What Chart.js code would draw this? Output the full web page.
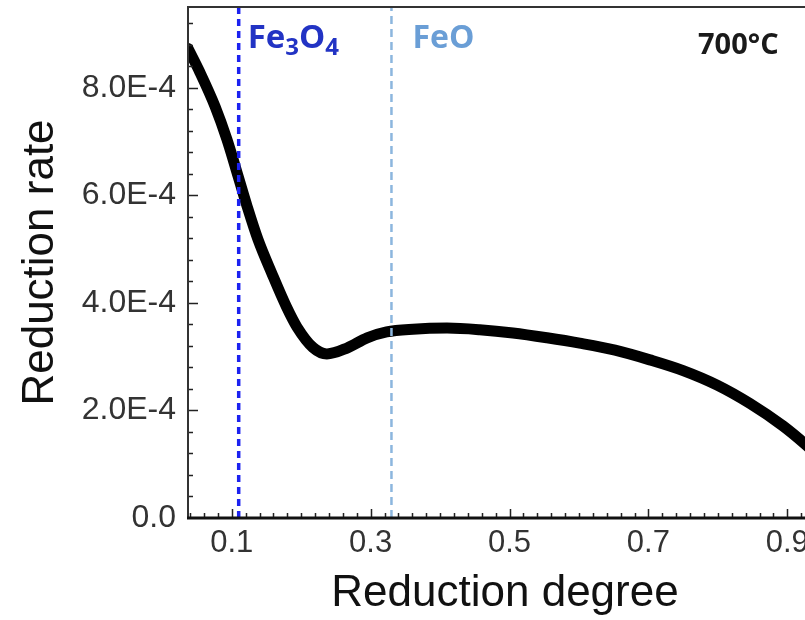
<!DOCTYPE html>
<html>
<head>
<meta charset="utf-8">
<script src="https://cdn.jsdelivr.net/npm/chart.js@4.4.1/dist/chart.umd.min.js"></script>
<style>
    html, body { margin: 0; padding: 0; background: #fff; overflow: hidden; }
    #wrap { width: 805px; height: 620px; overflow: hidden; }
</style>
</head>
<body>
<div id="wrap"><canvas id="rateChart" width="840" height="620"></canvas></div>
<script>
// Reduction rate curve (700 °C)
const reductionDegree = [0.037, 0.054, 0.076, 0.093, 0.109, 0.122, 0.138, 0.158, 0.179, 0.194, 0.217, 0.237, 0.266, 0.295, 0.323, 0.361, 0.410, 0.457, 0.505, 0.554, 0.601, 0.652, 0.702, 0.750, 0.799, 0.846, 0.894, 0.926, 0.962];
const reductionRate = [8.73e-4, 8.29e-4, 7.65e-4, 7.04e-4, 6.36e-4, 5.80e-4, 5.17e-4, 4.54e-4, 3.92e-4, 3.55e-4, 3.17e-4, 3.05e-4, 3.16e-4, 3.35e-4, 3.46e-4, 3.51e-4, 3.53e-4, 3.50e-4, 3.44e-4, 3.35e-4, 3.25e-4, 3.12e-4, 2.94e-4, 2.74e-4, 2.47e-4, 2.13e-4, 1.71e-4, 1.37e-4, 0.94e-4];

// Phase boundaries marked with dashed lines
const phaseNames = ['Fe3O4', 'FeO'];
const phaseDegree = [0.11, 0.33];

// Axis ticks
const xTicks = [0.1, 0.3, 0.5, 0.7, 0.9];
const yTicks = [0, 2e-4, 4e-4, 6e-4, 8e-4];
const xRange = [0.037, 0.95];
const yRange = [0, 9.5e-4];
const tempLabel = '700°C';

const phaseStyle = [
    { color: '#1c22f0', width: 3.5, dash: [7, 5], text: '#2233c4' },
    { color: '#8cb6de', width: 2.5, dash: [8, 5], text: '#6a9ed6' }
];

const curve = reductionDegree.map((d, i) => ({ x: d, y: reductionRate[i] }));

// dashed phase lines sit on top of the curve (lower order = drawn last)
const phaseSets = phaseDegree.map((d, i) => ({
    label: phaseNames[i],
    data: [{ x: d, y: yRange[0] }, { x: d, y: yRange[1] }],
    borderColor: phaseStyle[i].color,
    borderWidth: phaseStyle[i].width,
    borderDash: phaseStyle[i].dash,
    pointRadius: 0,
    fill: false,
    order: 0
}));

// inward tick marks, frame and text labels
const framePlugin = {
    id: 'frame',
    afterDatasetsDraw(chart) {
        const { ctx, chartArea: a, scales: { x, y } } = chart;
        ctx.save();
        ctx.strokeStyle = '#222';

        // x ticks, minor every 0.02
        ctx.lineWidth = 1.5;
        ctx.beginPath();
        for (let i = 2; i <= 50; i++) {
            const v = i * 0.02;
            if (v <= x.min || v >= x.max) continue;
            const px = Math.round(x.getPixelForValue(v)) + 0.5;
            const major = xTicks.some(t => Math.abs(t - v) < 1e-6);
            ctx.moveTo(px, a.bottom);
            ctx.lineTo(px, a.bottom - (major ? 9 : 5));
        }
        // y ticks, minor every 0.4E-4
        for (let i = 1; i <= 24; i++) {
            const v = i * 0.4e-4;
            if (v >= y.max) continue;
            const py = Math.round(y.getPixelForValue(v)) + 0.5;
            const major = yTicks.some(t => Math.abs(t - v) < 1e-9);
            ctx.moveTo(a.left, py);
            ctx.lineTo(a.left + (major ? 10 : 5), py);
        }
        ctx.stroke();

        // frame
        ctx.lineWidth = 2;
        ctx.strokeStyle = '#333';
        ctx.beginPath();
        ctx.moveTo(a.left, a.bottom);
        ctx.lineTo(a.left, a.top);
        ctx.lineTo(a.right, a.top);
        ctx.lineTo(a.right, a.bottom);
        ctx.stroke();
        ctx.lineWidth = 3;
        ctx.strokeStyle = '#111';
        ctx.beginPath();
        ctx.moveTo(a.left - 1, a.bottom);
        ctx.lineTo(a.right, a.bottom);
        ctx.stroke();

        // phase labels
        ctx.textBaseline = 'alphabetic';
        ctx.textAlign = 'left';
        const base = 48;
        // Fe3O4 with subscripts
        let tx = x.getPixelForValue(phaseDegree[0]) + 9;
        ctx.fillStyle = phaseStyle[0].text;
        const parts = [['Fe', 0], ['3', 1], ['O', 0], ['4', 1]];
        parts.forEach(([s, sub]) => {
            ctx.font = sub ? 'bold 24px "Open Sans"' : 'bold 33px "Open Sans"';
            ctx.fillText(s, tx, sub ? base + 7 : base);
            tx += ctx.measureText(s).width;
        });
        ctx.fillStyle = phaseStyle[1].text;
        ctx.font = 'bold 32px "Open Sans"';
        ctx.fillText(phaseNames[1], x.getPixelForValue(phaseDegree[1]) + 21, base);

        ctx.fillStyle = '#1a1a1a';
        ctx.font = 'bold 29px "Open Sans"';
        ctx.fillText(tempLabel, 698, 54);
        ctx.restore();
    }
};

new Chart(document.getElementById('rateChart'), {
    type: 'line',
    data: {
        datasets: [
            {
                label: 'Reduction rate',
                data: curve,
                borderColor: '#000',
                borderWidth: 11,
                borderCapStyle: 'round',
                borderJoinStyle: 'round',
                cubicInterpolationMode: 'monotone',
                pointRadius: 0,
                fill: false,
                clip: 0,
                order: 1
            },
            ...phaseSets
        ]
    },
    options: {
        responsive: false,
        animation: false,
        layout: { padding: { left: 0, top: 7, right: 18, bottom: 0 } },
        plugins: {
            legend: { display: false },
            tooltip: { enabled: false }
        },
        scales: {
            x: {
                type: 'linear',
                min: xRange[0],
                max: xRange[1],
                grid: { display: false, drawTicks: false },
                border: { display: false },
                afterBuildTicks: s => { s.ticks = xTicks.map(v => ({ value: v })); },
                afterFit: s => { s.height = 102; s.paddingLeft = 0; s.paddingRight = 0; },
                ticks: {
                    padding: 7,
                    color: '#333',
                    font: { family: '"Liberation Sans", Arial, sans-serif', size: 31 },
                    callback: v => v.toFixed(1)
                },
                title: {
                    display: true,
                    text: 'Reduction degree',
                    color: '#111',
                    font: { family: '"Liberation Sans", Arial, sans-serif', size: 44 },
                    padding: { top: 0, bottom: 0 }
                }
            },
            y: {
                type: 'linear',
                min: yRange[0],
                max: yRange[1],
                grid: { display: false, drawTicks: false },
                border: { display: false },
                afterBuildTicks: s => { s.ticks = yTicks.map(v => ({ value: v })); },
                afterFit: s => { s.width = 188; s.paddingTop = 0; s.paddingBottom = 0; },
                ticks: {
                    padding: 12,
                    color: '#333',
                    font: { family: '"Liberation Sans", Arial, sans-serif', size: 32 },
                    callback: v => v === 0 ? '0.0' : v.toExponential(1).replace('e', 'E')
                },
                title: {
                    display: true,
                    text: 'Reduction rate',
                    color: '#111',
                    font: { family: '"Liberation Sans", Arial, sans-serif', size: 44 },
                    padding: { top: 14, bottom: 0 }
                }
            }
        }
    },
    plugins: [framePlugin]
});
</script>
</body>
</html>
